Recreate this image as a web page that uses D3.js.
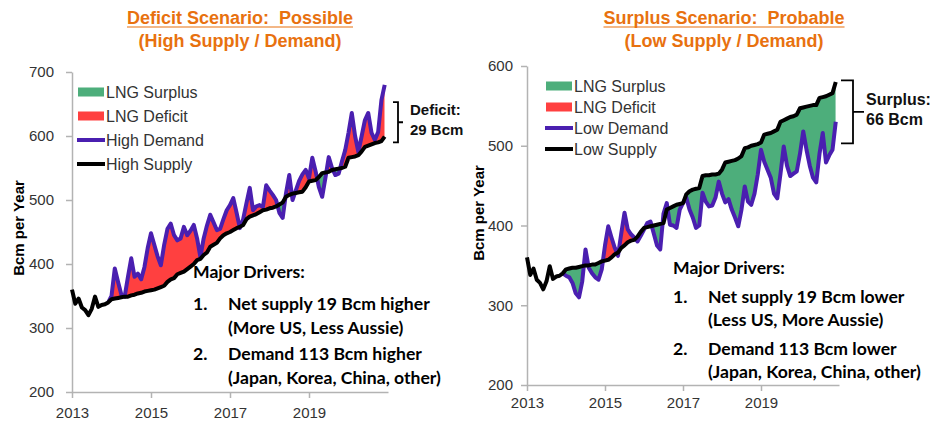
<!DOCTYPE html>
<html>
<head>
<meta charset="utf-8">
<script src="https://cdn.jsdelivr.net/npm/d3@7/dist/d3.min.js"></script>
<style>
  body { margin: 0; background: #fff; }
  svg { display: block; }
  .title { white-space: pre; }
</style>
</head>
<body>
<svg id="chart" width="933" height="424"></svg>
<script>
// LNG balance, monthly Bcm per year (annualised)
// 2013 history, shared by both scenarios
const history2013 = [360, 338, 346, 332, 328, 320, 330, 349, 333, 336, 337, 340];

// Jan 2014 .. Dec 2020
const highSupply = [
  345, 346, 347, 348, 349, 349, 351, 352, 354, 355, 357, 358,
  359, 360, 362, 364, 366, 372, 376, 378, 384, 386, 388, 392,
  396, 400, 406, 408, 414, 418, 427, 430, 433, 440, 445, 448,
  450, 453, 456, 458, 461, 470, 474, 476, 478, 481, 484, 485,
  487, 488, 490, 493, 496, 505, 508, 510, 511, 512, 513, 520,
  529, 530, 531, 536, 542, 543, 544, 547, 548, 549, 550, 552,
  566, 567, 568, 570, 576, 583, 585, 587, 589, 590, 592, 599
];
// Dec 2013 .. Dec 2020
const highDemand = [
  340,
  350, 393, 372, 352, 349, 380, 409, 380, 385, 376, 395, 425,
  448, 430, 412, 398, 430, 455, 463, 445, 437, 440, 458, 445,
  452, 461, 440, 411, 440, 460, 477, 465, 453, 455, 470, 484,
  492, 503, 480, 456, 470, 495, 519, 484, 490, 492, 489, 523,
  515, 508, 500, 480, 472, 510, 539, 500, 515, 530, 540, 547,
  534, 566, 545, 520, 505, 535, 567, 550, 539, 541, 560, 578,
  605, 636, 600, 575, 600, 625, 636, 605, 594, 606, 656, 680
];

const lowSupply = [
  345, 346, 347, 347, 348, 349, 350, 350, 351, 351, 353, 355,
  356, 357, 360, 364, 366, 372, 375, 379, 381, 382, 386, 392,
  397, 398, 399, 400, 401, 402, 403, 420, 422, 424, 426, 427,
  428, 439, 443, 445, 446, 447, 462, 463, 463, 464, 464, 465,
  470, 479, 480, 481, 482, 484, 487, 497, 498, 500, 501, 502,
  504, 514, 515, 516, 518, 520, 530, 532, 534, 536, 537, 539,
  547, 548, 549, 550, 551, 551, 560, 561, 562, 564, 566, 580
];
const lowDemand = [
  340,
  337, 335, 328, 315, 310, 330, 370, 347, 340, 335, 332, 345,
  375, 399, 385, 372, 362, 390, 416, 395, 389, 385, 380, 387,
  395, 403, 405, 390, 375, 370, 415, 428, 401, 400, 397, 420,
  428, 435, 420, 410, 397, 400, 441, 430, 424, 425, 435, 455,
  440, 429, 433, 420, 410, 399, 420, 449, 430, 426, 440, 464,
  495, 480, 470, 460, 440, 434, 465, 499, 475, 462, 465, 468,
  490, 518, 495, 475, 460, 454, 490, 516, 479, 488, 495, 530
];

const xTicks = [2013, 2015, 2017, 2019];
const leftYTicks = [200, 300, 400, 500, 600, 700];
const rightYTicks = [200, 300, 400, 500, 600];

const legendLeft = ['LNG Surplus', 'LNG Deficit', 'High Demand', 'High Supply'];
const legendRight = ['LNG Surplus', 'LNG Deficit', 'Low Demand', 'Low Supply'];

const titlesLeft = ['Deficit Scenario:  Possible', '(High Supply / Demand)'];
const titlesRight = ['Surplus Scenario:  Probable', '(Low Supply / Demand)'];

const driversLeft = [
  ['1.', 'Net supply 19 Bcm higher', '(More US, Less Aussie)'],
  ['2.', 'Demand 113 Bcm higher', '(Japan, Korea, China, other)']
];
const driversRight = [
  ['1.', 'Net supply 19 Bcm lower', '(Less US, More Aussie)'],
  ['2.', 'Demand 113 Bcm lower', '(Japan, Korea, China, other)']
];

const GREEN = '#4dae7b', RED = '#ff4040', PURPLE = '#4a1fb0', ORANGE = '#e8710f';
const AXIS = '#b3b3b3';

const svg = d3.select('#chart');

function buildRows(supply, demand) {
  const s = history2013.concat(supply);
  const dStart = s.length - demand.length;
  return s.map((v, i) => ({ t: 2013 + i / 12, s: v, d: i >= dStart ? demand[i - dStart] : null }));
}

function drawPanel(p) {
  const g = svg.append('g');
  const x = d3.scaleLinear().domain([2013, 2021]).range([p.x0, p.x1]);
  const y = d3.scaleLinear().domain([p.yTicks[0], p.yTicks[p.yTicks.length - 1]]).range([p.yBottom, p.yTop]);
  const rows = buildRows(p.supply, p.demand);

  // clip regions above / below supply line
  const above = d3.area().x(d => x(d.t)).y0(p.yTop - 60).y1(d => y(d.s));
  const below = d3.area().x(d => x(d.t)).y0(p.yBottom + 60).y1(d => y(d.s));
  const defs = g.append('defs');
  defs.append('clipPath').attr('id', p.id + '-above').append('path').attr('d', above(rows));
  defs.append('clipPath').attr('id', p.id + '-below').append('path').attr('d', below(rows));

  const gap = d3.area().defined(d => d.d != null).x(d => x(d.t)).y0(d => y(d.s)).y1(d => y(d.d));
  g.append('path').attr('d', gap(rows)).attr('fill', RED).attr('clip-path', `url(#${p.id}-above)`);
  g.append('path').attr('d', gap(rows)).attr('fill', GREEN).attr('clip-path', `url(#${p.id}-below)`);

  // axes
  const yAxis = g.append('g').attr('transform', `translate(${p.x0},0)`)
    .call(d3.axisLeft(y).tickValues(p.yTicks).tickSize(6).tickSizeOuter(0).tickPadding(p.yPad));
  const xAxis = g.append('g').attr('transform', `translate(0,${p.yBottom})`)
    .call(d3.axisBottom(x).tickValues(xTicks).tickFormat(d3.format('d')).tickSize(6).tickSizeOuter(0).tickPadding(p.xPad));
  [yAxis, xAxis].forEach(a => {
    a.selectAll('path, line').attr('stroke', AXIS).attr('stroke-width', 1.5);
    a.selectAll('text').attr('fill', '#333').style('font', '15px "Liberation Sans", Arial, sans-serif');
  });

  // lines
  const demandLine = d3.line().defined(d => d.d != null).x(d => x(d.t)).y(d => y(d.d));
  const supplyLine = d3.line().x(d => x(d.t)).y(d => y(d.s));
  g.append('path').attr('d', demandLine(rows)).attr('fill', 'none').attr('stroke', PURPLE)
    .attr('stroke-width', 4).attr('stroke-linejoin', 'round');
  g.append('path').attr('d', supplyLine(rows)).attr('fill', 'none').attr('stroke', '#000')
    .attr('stroke-width', 4).attr('stroke-linejoin', 'round');

  // y title
  g.append('text').attr('transform', `translate(${p.yTitleX},${p.yTitleY}) rotate(-90)`)
    .attr('text-anchor', 'middle').attr('fill', '#000')
    .style('font', 'bold 15px "Liberation Sans", Arial, sans-serif').text('Bcm per Year');

  // titles
  const tfont = 'bold 18px "Liberation Sans Narrow", "Arial Narrow", "Liberation Sans", sans-serif';
  const t1 = g.append('text').attr('class', 'title').attr('x', p.titleX).attr('y', 24).attr('text-anchor', 'middle')
    .attr('fill', ORANGE).style('font', tfont).text(p.titles[0]);
  const bb = t1.node().getBBox();
  g.append('line').attr('x1', bb.x).attr('x2', bb.x + bb.width).attr('y1', 27).attr('y2', 27)
    .attr('stroke', ORANGE).attr('stroke-width', 1.2);
  g.append('text').attr('class', 'title').attr('x', p.titleX).attr('y', 47).attr('text-anchor', 'middle')
    .attr('fill', ORANGE).style('font', tfont).text(p.titles[1]);

  // legend
  const lg = g.append('g').attr('transform', `translate(${p.legX},${p.legY})`);
  p.legend.forEach((name, i) => {
    const row = lg.append('g').attr('transform', `translate(0,${i * p.legStep})`);
    if (i < 2) {
      row.append('rect').attr('x', 0).attr('y', -4.5).attr('width', 26).attr('height', 9).attr('fill', i === 0 ? GREEN : RED);
    } else {
      row.append('line').attr('x1', -1).attr('x2', 27).attr('y1', 0).attr('y2', 0)
        .attr('stroke', i === 2 ? PURPLE : '#000').attr('stroke-width', 4);
    }
    row.append('text').attr('x', 28).attr('y', 0).attr('dy', '0.35em').attr('fill', '#333')
      .style('font', '16px "Liberation Sans", Arial, sans-serif').text(name);
  });

  // bracket annotation
  const bx = x(2021) + p.brOff;
  const yt = y(p.brTop), yb = y(p.brBot), ym = (yt + yb) / 2;
  g.append('path')
    .attr('d', `M${bx - p.brW},${yt} H${bx} V${yb} H${bx - p.brW} M${bx},${ym} H${bx + p.brNotch}`)
    .attr('fill', 'none').attr('stroke', '#000').attr('stroke-width', 1.8);
  p.brText.forEach((s, i) => {
    g.append('text').attr('x', p.brTextX).attr('y', ym - 7 + i * 20).attr('fill', '#111')
      .style('font', `bold ${p.brFont}px "Liberation Sans", Arial, sans-serif`).text(s);
  });

  // drivers
  const dfont = 'bold 17.6px Lato, "Open Sans", sans-serif';
  g.append('text').attr('x', p.drX).attr('y', p.drY).attr('fill', '#000').style('font', dfont).text('Major Drivers:');
  p.drivers.forEach((d, i) => {
    const yy = p.drY + p.drGap1 + i * p.drGap2;
    g.append('text').attr('x', p.drX).attr('y', yy).style('font', dfont).text(d[0]);
    g.append('text').attr('x', p.drX + 35).attr('y', yy).style('font', dfont).text(d[1]);
    g.append('text').attr('x', p.drX + 35).attr('y', yy + p.drLine).style('font', dfont).text(d[2]);
  });
}

drawPanel({
  id: 'left', x0: 72, x1: 388, yTop: 72, yBottom: 392, yTicks: leftYTicks,
  supply: highSupply, demand: highDemand, yPad: 12, xPad: 9,
  yTitleX: 24, yTitleY: 228, titleX: 240, titles: titlesLeft,
  legend: legendLeft, legX: 78, legY: 92, legStep: 24,
  brOff: 10, brTop: 653, brBot: 590, brW: 5, brNotch: 5, brText: ['Deficit:', '29 Bcm'], brTextX: 410, brFont: 15,
  drX: 193, drY: 278, drGap1: 32, drGap2: 50, drLine: 24, drivers: driversLeft
});

drawPanel({
  id: 'right', x0: 527, x1: 839, yTop: 66, yBottom: 385, yTicks: rightYTicks,
  supply: lowSupply, demand: lowDemand, yPad: 8, xPad: 6,
  yTitleX: 484, yTitleY: 213, titleX: 724, titles: titlesRight,
  legend: legendRight, legX: 546, legY: 86, legStep: 21,
  brOff: 14, brTop: 582, brBot: 503, brW: 12, brNotch: 11, brText: ['Surplus:', '66 Bcm'], brTextX: 866, brFont: 16,
  drX: 673, drY: 274, drGap1: 29, drGap2: 52, drLine: 23, drivers: driversRight
});
</script>
</body>
</html>
